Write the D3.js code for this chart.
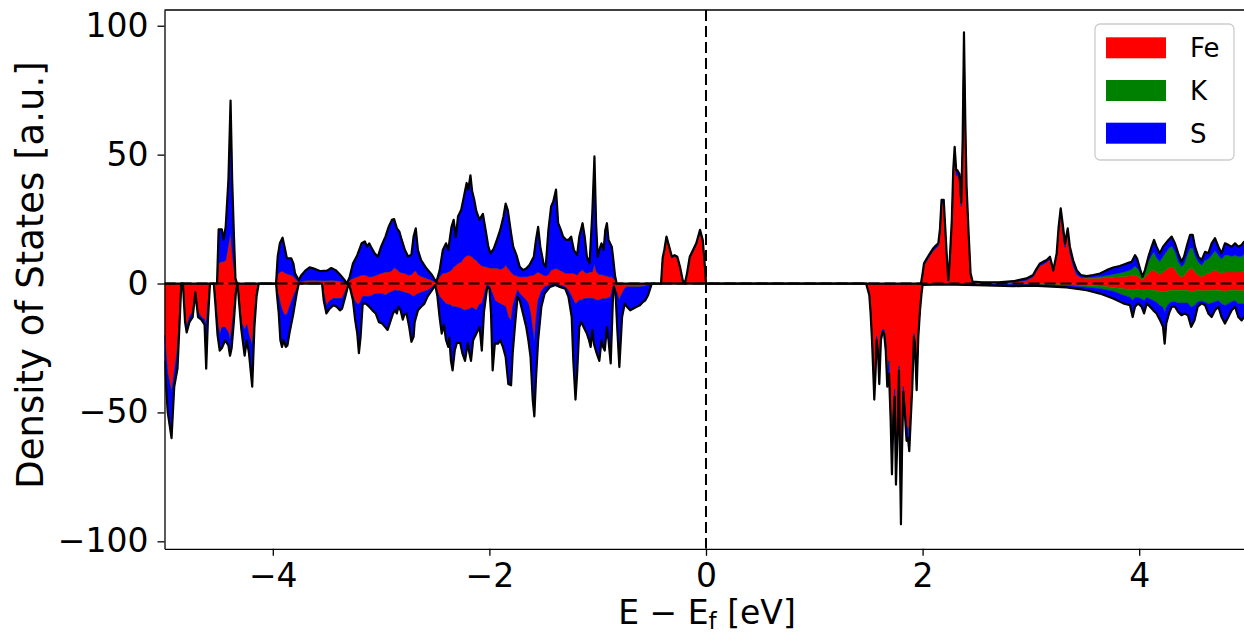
<!DOCTYPE html>
<html>
<head>
<meta charset="utf-8">
<script src="https://cdn.jsdelivr.net/npm/d3@7"></script>
<style>
  body { margin: 0; background: #ffffff; }
  svg { display: block; }
  text { font-family: "DejaVu Sans", sans-serif; fill: #000; }
</style>
</head>
<body>
<svg id="chart" width="1244" height="636"></svg>
<script>
// ---- Projected density of states, spin up (positive) and spin down (negative) ----
const species = ["Fe", "K", "S"];
const speciesColors = ["#ff0000", "#008000", "#0000ff"];
const xTicks = [-4, -2, 0, 2, 4];
const yTicks = [-100, -50, 0, 50, 100];

// spin-up channel
const energyUp = [
  -5.0, -4.515, -4.5, -4.47, -4.455, -4.435, -4.41, -4.39, -4.375, -4.36, -4.345, -4.33,
  -3.97, -3.955, -3.935, -3.91, -3.89, -3.87, -3.83, -3.81, -3.795, -3.76, -3.74,
  -3.7, -3.66, -3.62, -3.56, -3.5, -3.46, -3.42, -3.38, -3.34, -3.315,
  -3.29, -3.26, -3.22, -3.18, -3.15, -3.13, -3.11, -3.09, -3.06, -3.03,
  -3.0, -2.96, -2.93, -2.9, -2.88, -2.855, -2.83, -2.81, -2.78, -2.75,
  -2.72, -2.7, -2.68, -2.66, -2.63, -2.58, -2.53, -2.49,
  -2.46, -2.43, -2.4, -2.38, -2.35, -2.33, -2.31, -2.29, -2.26, -2.235,
  -2.21, -2.195, -2.175, -2.16, -2.14, -2.12, -2.09, -2.075, -2.06, -2.03,
  -2.01, -1.99, -1.96, -1.93, -1.9, -1.87, -1.85, -1.83, -1.8, -1.78,
  -1.75, -1.72, -1.69, -1.66, -1.63, -1.59, -1.57, -1.55, -1.53, -1.5,
  -1.48, -1.455, -1.43, -1.41, -1.385, -1.365, -1.34, -1.32, -1.29, -1.27,
  -1.245, -1.22, -1.19, -1.17, -1.14, -1.12, -1.1, -1.075, -1.05, -1.03,
  -1.015, -1.0, -0.985, -0.965, -0.945, -0.93, -0.915, -0.9, -0.87, -0.855,
  -0.84, -0.825,
  -0.415, -0.4, -0.385, -0.365, -0.34, -0.315, -0.29, -0.265, -0.24, -0.215,
  -0.195, -0.175, -0.15, -0.12, -0.09, -0.055, -0.03, -0.01, 0.0,
  1.985, 2.0, 2.013, 2.04, 2.068, 2.099, 2.12, 2.145, 2.16, 2.175,
  2.195, 2.21, 2.222, 2.237, 2.25, 2.27, 2.283, 2.296, 2.31, 2.32,
  2.34, 2.357, 2.37, 2.382, 2.394, 2.406, 2.425, 2.443, 2.462, 2.55,
  2.7, 2.84, 2.96,
  3.02, 3.053, 3.084, 3.115, 3.146, 3.176, 3.207, 3.238, 3.256, 3.275,
  3.293, 3.315, 3.34, 3.36, 3.39, 3.423, 3.46, 3.515, 3.576, 3.638,
  3.7, 3.76, 3.82, 3.884, 3.93, 3.961, 3.98, 4.007, 4.03, 4.053,
  4.085, 4.115, 4.137, 4.16, 4.19, 4.22, 4.27, 4.3, 4.33, 4.36,
  4.39, 4.414, 4.438, 4.47, 4.494, 4.515, 4.546, 4.577, 4.608, 4.638,
  4.669, 4.7, 4.731, 4.76, 4.792, 4.823, 4.854, 4.885, 4.915, 4.946,
  4.968, 5.0
];
const feUp = [
  0, 0, 8, 8.5, 8.5, 9, 15, 20, 12, 6.5, 1, 0,
  0, 3.5, 4.5, 4.8, 4.2, 3.8, 3.3, 2.8, 2, 0.5, 0.8,
  1.2, 1.3, 1.3, 1.2, 1.2, 1.3, 1.2, 1, 0.5, 0,
  1.3, 2, 2.6, 3.3, 3.3, 3, 2.6, 2.6, 3, 3.5,
  4, 4.5, 4.5, 5, 6.2, 5.5, 4.5, 4.2, 4, 3.3,
  3.5, 4.5, 5, 3.5, 2.8, 2, 1.3, 0.3,
  2.6, 4, 4.2, 4.5, 5.2, 6.5, 7, 7.8, 8.4, 10,
  10.8, 11, 10.8, 10.4, 9.5, 9, 7.5, 7, 6.8, 6.5,
  6.2, 6, 6, 6, 5.5, 6, 7.2, 6, 4.5, 3.5,
  3, 2.6, 2.6, 2.6, 3, 3.3, 4, 4.5, 4, 3.3,
  3, 3.5, 5.2, 5.5, 5.9, 5.5, 5, 4.5, 4, 4,
  4, 4, 3.3, 4.5, 5.2, 4.5, 4, 4.5, 4.5, 7.8,
  5, 4, 3.5, 3.5, 3.3, 3, 3, 2.6, 2.6, 2,
  1.3, 0,
  0, 9.5, 12.5, 17.7, 14, 10, 10.6, 10, 6, 1.2,
  0, 3.5, 9.8, 12.3, 15, 20, 16, 6, 0,
  0, 3.5, 7, 9, 10.8, 12.8, 13.5, 14.5, 20, 31,
  31, 20, 11, 1, 8, 23.5, 42, 51, 42, 42,
  40.5, 30, 54, 95, 61, 36, 18.5, 3.5, 0.5, 0.3,
  0.3, 0.6, 1.3,
  2.6, 5, 7, 7.5, 8.3, 9.5, 4.5, 11, 20.5, 28,
  20, 14, 19.5, 12, 7, 3.5, 2.2, 2, 2, 2,
  2.3, 2.4, 2.6, 2.8, 3, 3.3, 3, 2, 1.3, 2.5,
  4, 5, 5.2, 4.5, 3.5, 4.5, 6, 6.5, 5.5, 3.5,
  2.6, 3, 4.5, 5.8, 5.8, 4.5, 3.3, 2.6, 3.5, 4,
  4.5, 5.2, 4.5, 4, 4.5, 4.5, 4.5, 4.5, 4.5, 4.5,
  4.8, 4.8
];
const kUp = [
  0, 0, 0, 0, 0, 0, 0, 0, 0, 0, 0, 0,
  0, 0, 0, 0, 0, 0, 0, 0, 0, 0, 0,
  0, 0, 0, 0, 0, 0, 0, 0, 0, 0,
  0, 0, 0, 0, 0, 0, 0, 0, 0, 0,
  0, 0, 0, 0, 0, 0, 0, 0, 0, 0,
  0, 0, 0, 0, 0, 0, 0, 0,
  0, 0, 0, 0, 0, 0, 0, 0, 0, 0,
  0, 0, 0, 0, 0, 0, 0, 0, 0, 0,
  0, 0, 0, 0, 0, 0, 0, 0, 0, 0,
  0, 0, 0, 0, 0, 0, 0, 0, 0, 0,
  0, 0, 0, 0, 0, 0, 0, 0, 0, 0,
  0, 0, 0, 0, 0, 0, 0, 0, 0, 0,
  0, 0, 0, 0, 0, 0, 0, 0, 0, 0,
  0, 0,
  0, 0, 0, 0, 0, 0, 0, 0, 0, 0,
  0, 0, 0, 0, 0, 0, 0, 0, 0,
  0, 0, 0, 0, 0, 0, 0, 0, 0, 0,
  0, 0, 0, 0, 0, 0, 0, 0, 0, 0,
  0, 0, 0, 0, 0, 0, 0, 0, 0, 0,
  0, 0, 0,
  0, 0, 0, 0, 0, 0, 0, 0, 0, 0,
  0, 0, 0, 0, 0, 0, 0.2, 0.3, 0.5, 0.7,
  0.8, 1.2, 1.5, 2, 2.5, 3.5, 3, 2.5, 1, 2.5,
  4.5, 6, 7, 5.5, 5, 6, 7.5, 8, 7, 5,
  4, 4.5, 6, 8, 8, 6.5, 5, 4.5, 5.5, 5.5,
  6.5, 7.5, 6.5, 5.5, 6.5, 6.5, 6, 6.5, 6, 6,
  6.5, 6.5
];
const sUp = [
  0, 0, 13, 12.5, 8.5, 13, 25, 51, 28, 13.5, 1, 0,
  0, 6.9, 11.1, 13, 9.8, 6, 6.5, 5, 2, 0.8, 2.2,
  3.8, 5, 4.5, 3.6, 3.8, 4.7, 4, 2.5, 1, 0,
  1.3, 5.8, 8.4, 12.3, 13, 11.3, 13, 11.4, 8.7, 6.9,
  10.3, 13.7, 17.5, 19.7, 18.8, 16, 15.5, 12.8, 9, 7.2,
  7.7, 13.7, 16.4, 9.5, 6.2, 3.8, 2, 0.2,
  2.4, 9, 11.4, 8.5, 16.8, 18.2, 11, 18.2, 20.2, 23.8,
  28.2, 25.4, 31.2, 25.6, 23, 19, 17.2, 19, 20.2, 13,
  8.1, 5.7, 7.5, 11, 15.3, 20, 23.8, 22.5, 15, 10.8,
  8, 3.9, 2.6, 3.2, 4.2, 7.1, 12.9, 17.5, 10.3, 4.5,
  3.5, 17.3, 24.7, 26.3, 30.5, 17.9, 15.8, 13.7, 12.9, 12.9,
  14.2, 9, 7.7, 13.7, 18.2, 13.7, 6.4, 3.3, 22.5, 41.5,
  18.4, 6.4, 9.5, 12.1, 9.7, 17.8, 20.4, 14.3, 11.7, 7,
  1.7, 0,
  0, 0.5, 0.5, 0.5, 0.3, 0.4, 0.4, 0.4, 0.5, 0.1,
  0, 0.5, 0.6, 0.7, 0.6, 0.8, 0.9, 0.5, 0,
  0, 0.4, 0.8, 0.8, 0.9, 0.9, 1.1, 1.1, 1, 1.5,
  1.5, 1, 0.7, 0.3, 0.5, 1.2, 2, 2, 2, 2,
  2, 1.5, 2, 2.4, 2.6, 1.7, 1, 0.5, 0.2, 0.2,
  0.2, 0.3, 0.7,
  0.7, 0.8, 0.8, 1, 0.8, 0.9, 0.7, 0.7, 1.5, 1.2,
  3.3, 1.6, 1.9, 2.3, 2, 1.7, 0.9, 0.6, 0.8, 1.2,
  2.1, 2.6, 2.7, 3, 2.9, 4.2, 3.8, 1.3, 0.3, 0.2,
  1.9, 3.3, 4.7, 4.3, 3.2, 3.8, 3.4, 3.7, 3.1, 3.2,
  1.9, 2.9, 3.8, 5.1, 5.1, 3.3, 2.1, 2, 3.3, 2.2,
  4.6, 4.9, 3.3, 2.2, 4.6, 4, 3.8, 4.6, 3.8, 4.5,
  4.9, 5.2
];

// spin-down channel (drawn below zero)
const energyDown = [
  -5.0, -4.97, -4.935, -4.91, -4.88, -4.855, -4.845, -4.83, -4.81, -4.795,
  -4.77, -4.74, -4.715, -4.69, -4.66, -4.63, -4.615, -4.6, -4.58, -4.545,
  -4.53, -4.51, -4.49, -4.47, -4.44, -4.41, -4.395, -4.38, -4.36, -4.34,
  -4.325, -4.31, -4.29, -4.26, -4.24, -4.22, -4.19, -4.17, -4.15, -4.13,
  -3.97, -3.96, -3.945, -3.93, -3.915, -3.9, -3.88, -3.865, -3.845, -3.81, -3.78,
  -3.76, -3.545, -3.53, -3.505, -3.48, -3.44, -3.41, -3.38, -3.36, -3.33, -3.3,
  -3.285, -3.26, -3.24, -3.22, -3.205, -3.19, -3.17, -3.14, -3.11, -3.08,
  -3.05, -3.02, -2.99, -2.96, -2.94, -2.92, -2.89, -2.87, -2.855, -2.84,
  -2.82, -2.8, -2.785, -2.765, -2.74, -2.72, -2.7, -2.69, -2.66, -2.63,
  -2.6, -2.57, -2.53, -2.5,
  -2.48, -2.46, -2.44, -2.42, -2.4, -2.38, -2.37, -2.355, -2.34, -2.32,
  -2.3, -2.27, -2.25, -2.225, -2.2, -2.185, -2.17, -2.15, -2.12, -2.09,
  -2.07, -2.05, -2.04, -2.02, -2.0, -1.985, -1.97, -1.95, -1.92, -1.9,
  -1.875, -1.85, -1.825, -1.8, -1.785, -1.765, -1.74, -1.72, -1.69, -1.66,
  -1.64, -1.62, -1.6, -1.585, -1.57, -1.55, -1.52, -1.49, -1.44, -1.39,
  -1.35, -1.3, -1.27, -1.24, -1.225, -1.205, -1.19, -1.17, -1.15, -1.13,
  -1.1, -1.08, -1.065, -1.05, -1.035, -1.01, -0.985, -0.965, -0.95, -0.935,
  -0.915, -0.9, -0.88, -0.86, -0.85, -0.835, -0.82, -0.8, -0.79, -0.775,
  -0.75, -0.73, -0.7, -0.67, -0.64, -0.61, -0.58, -0.56, -0.535, -0.51,
  -0.5,
  1.478, 1.508, 1.52, 1.533, 1.545, 1.554, 1.565, 1.576, 1.59, 1.6,
  1.615, 1.631, 1.645, 1.66, 1.674, 1.69, 1.705, 1.717, 1.73, 1.742,
  1.754, 1.77, 1.782, 1.79, 1.8, 1.81, 1.822, 1.837, 1.852, 1.865,
  1.877, 1.89, 1.905, 1.92, 1.93, 1.945, 1.96, 1.976, 1.99, 2.0,
  2.2, 2.5,
  2.84, 3.02, 3.33, 3.515, 3.638, 3.76, 3.853, 3.915, 3.94, 3.961,
  3.99, 4.022, 4.045, 4.07, 4.1, 4.13, 4.16, 4.19, 4.22, 4.235,
  4.25, 4.275, 4.3, 4.33, 4.36, 4.39, 4.42, 4.45, 4.48, 4.51,
  4.54, 4.577, 4.608, 4.638, 4.669, 4.7, 4.731, 4.76, 4.792, 4.823,
  4.854, 4.885, 4.915, 4.946, 4.968, 5.0
];
const feDown = [
  -20, -35, -42, -35, -25, -8, 0, 0, -13, -17,
  -13, -11, -3, -11, -13, -14, -16, -8, 0, 0,
  -5, -15, -20, -17, -17, -19, -22, -18, -10, -2,
  0, -6, -15, -18, -16, -20, -24, -12, -3, 0,
  0, -2.5, -5, -7.8, -10, -11.6, -12.3, -11.5, -9, -5, -2,
  0, 0, -3.5, -8.4, -7, -5.8, -5.8, -5.8, -5.8, -3, 0,
  -1.3, -5, -7, -7.8, -8, -7, -5, -5, -5, -4.5,
  -4, -3.9, -4, -4.5, -4, -3.5, -3, -2.6, -2.8, -2.8,
  -3, -3.2, -3.5, -3.7, -4, -4.5, -5, -4.8, -4, -3.5,
  -3, -2.6, -1.5, -0.4,
  -3, -5, -6, -7, -7.8, -8.2, -8.2, -8.4, -9, -9,
  -9.2, -9.5, -10, -10.5, -10, -10, -9.5, -9.5, -10.4, -8,
  -7.8, -5, -3, -0.6, -1, -2.6, -4, -6.5, -7.5, -7.8,
  -8.4, -9, -13, -14.3, -9, -6, -2.6, -3.9, -5.2, -6.5,
  -7.8, -11.6, -18, -23, -14, -6.5, -3, -1.3, -0.6, -0.3,
  -0.6, -1.3, -2.6, -5, -6.5, -7.8, -7.5, -6.5, -6.5, -6,
  -5.8, -5.8, -5.8, -5.8, -6, -6.5, -6.5, -6, -6, -6,
  -5.8, -5.5, -5.2, -1.3, -0.6, -2.6, -3.9, -6.5, -5.2, -3.9,
  -1.9, -1.3, -1.3, -1.3, -1.3, -1.3, -1.2, -1, -0.6, -0.3,
  0,
  0, -4, -10.5, -20.5, -33, -42.5, -33, -20.5, -26, -37,
  -20, -17.8, -18, -22, -35, -30, -50, -70, -50, -41,
  -74, -53, -32, -60, -89, -62, -40, -47, -55, -56,
  -61, -50, -38, -19.5, -22.5, -39, -20, -10, -3.5, -0.3,
  -0.1, -0.2,
  -0.3, -0.4, -0.5, -0.8, -1, -1.5, -2, -2.3, -2.6, -2.4,
  -2.4, -2.5, -2.6, -2.4, -2.5, -2.6, -2.8, -3, -3.2, -3.3,
  -3.2, -2.8, -2.6, -2.6, -2.6, -2.6, -2.6, -2.6, -3.2, -3,
  -2.6, -2.8, -2.8, -2.8, -2.6, -2.6, -2.6, -2.8, -3, -2.8,
  -2.6, -2.6, -2.8, -2.8, -2.8, -2.8
];
const kDown = [
  0, 0, 0, 0, 0, 0, 0, 0, 0, 0,
  0, 0, 0, 0, 0, 0, 0, 0, 0, 0,
  0, 0, 0, 0, 0, 0, 0, 0, 0, 0,
  0, 0, 0, 0, 0, 0, 0, 0, 0, 0,
  0, 0, 0, 0, 0, 0, 0, 0, 0, 0, 0,
  0, 0, 0, 0, 0, 0, 0, 0, 0, 0, 0,
  0, 0, 0, 0, 0, 0, 0, 0, 0, 0,
  0, 0, 0, 0, 0, 0, 0, 0, 0, 0,
  0, 0, 0, 0, 0, 0, 0, 0, 0, 0,
  0, 0, 0, 0,
  0, 0, 0, 0, 0, 0, 0, 0, 0, 0,
  0, 0, 0, 0, 0, 0, 0, 0, 0, 0,
  0, 0, 0, 0, 0, 0, 0, 0, 0, 0,
  0, 0, 0, 0, 0, 0, 0, 0, 0, 0,
  0, 0, 0, 0, 0, 0, 0, 0, 0, 0,
  0, 0, 0, 0, 0, 0, 0, 0, 0, 0,
  0, 0, 0, 0, 0, 0, 0, 0, 0, 0,
  0, 0, 0, 0, 0, 0, 0, 0, 0, 0,
  0, 0, 0, 0, 0, 0, 0, 0, 0, 0,
  0,
  0, 0, 0, 0, 0, 0, 0, 0, 0, 0,
  0, 0, 0, 0, 0, 0, 0, 0, 0, 0,
  0, 0, 0, 0, 0, 0, 0, 0, 0, 0,
  0, 0, 0, 0, 0, 0, 0, 0, 0, 0,
  0, 0,
  -0.1, -0.1, -0.3, -0.6, -1, -1.5, -2.5, -3, -4, -3,
  -3, -3.5, -4, -3, -3.5, -4, -4.5, -5.5, -6, -8,
  -6, -5, -4.5, -4.5, -5, -5, -5, -5, -6, -5.5,
  -4.5, -4, -4.5, -5, -5, -4.5, -4, -5, -5.5, -5,
  -4.5, -4, -5, -5, -5, -5
];
const sDown = [
  -10, -15, -18, -5, -8, -2, 0, 0, -2, -2,
  -2, -2, -0.5, -2, -1, -2, -17, -7, 0, 0,
  -3, -5, -6, -8, -5, -5, -6, -7, -5, -1,
  0, -2, -3, -10, -6, -7, -16, -5, -2, 0,
  0, -2.5, -6.6, -14.2, -14.6, -10.4, -12.3, -12.5, -10, -6.6, -2,
  0, 0, -3, -3.2, -3, -2.6, -3.2, -4.6, -3.9, -2, 0,
  -0.7, -1.5, -7, -11.6, -19, -14, -2.8, -2.8, -4, -5.9,
  -7.6, -11.1, -11.5, -12.5, -14, -12, -8.6, -7.8, -8.8, -6.2,
  -7.4, -10.8, -8.5, -7.9, -13, -18.1, -15.7, -10.2, -6.4, -5.5,
  -4.8, -2.4, -1.1, -0.2,
  -2, -8, -13.4, -9, -14.2, -16.4, -12.8, -21.6, -24.7, -17,
  -13.8, -13.5, -17, -19.5, -13, -17, -20.5, -12.5, -9, -8.9,
  -18.2, -6, -4.8, -0.7, -1, -9, -29.7, -16.8, -15.8, -14.2,
  -16.2, -19.5, -26, -25.2, -18, -10.9, -2.6, -2.6, -6.4, -10.4,
  -14.2, -16.9, -27, -28.5, -23, -15.5, -6, -2.6, -0.7, -0.3,
  -0.7, -0.7, -2.6, -8, -23.5, -37.2, -27.5, -10.4, -8.4, -10.9,
  -13.6, -16.2, -18.8, -12.2, -17.3, -20.5, -23.5, -16, -18.6, -20,
  -11.1, -16.5, -25.8, -5.2, -0.7, -1.3, -13, -25.9, -19.4, -9.1,
  -5.9, -7.7, -9.1, -8.4, -7.7, -7.1, -5.9, -5.5, -3.9, -1,
  0,
  0, -0.5, -1.1, -1.5, -2, -2.5, -2, -1.5, -2, -2,
  -2, -1, -1.4, -4, -5, -5, -3, -4, -3, -3,
  -4, -3, -2, -4, -4.4, -3, -2, -4, -6, -4,
  -4, -3, -2, -1.2, -1.5, -2.4, -1, -0.4, -0.4, -0.2,
  -0.2, -0.4,
  -0.6, -0.3, -0.7, -1.2, -1.9, -2.8, -3.2, -3.1, -6.4, -3.6,
  -2.3, -3, -5, -2.3, -3, -3.8, -4.3, -5.5, -7.6, -12,
  -6.3, -3.8, -1.9, -1.9, -3.4, -4.7, -4, -4.7, -7.6, -5.8,
  -1.9, -0.9, -1.1, -3.8, -5.4, -3.3, -2.4, -5.2, -7, -5.2,
  -3.3, -2.4, -5.2, -6.5, -5.2, -4.7
];

// ---- layout ----
const plot = { left: 164.5, right: 1247.5, top: 10, bottom: 548.8 };
const x = d3.scaleLinear().domain([-5, 5]).range([plot.left, plot.right]);
const y = d3.scaleLinear().domain([-102.9, 106.1]).range([plot.bottom, plot.top]);
const color = d3.scaleOrdinal().domain(species).range(speciesColors);

const svg = d3.select("#chart");

svg.append("defs").append("clipPath").attr("id", "plot-clip")
  .append("rect")
  .attr("x", plot.left).attr("y", plot.top)
  .attr("width", plot.right - plot.left).attr("height", plot.bottom - plot.top);

function toRows(energy, fe, k, s) {
  return energy.map((e, i) => ({ E: e, Fe: fe[i], K: k[i], S: s[i] }));
}
const upRows = toRows(energyUp, feUp, kUp, sUp);
const downRows = toRows(energyDown, feDown, kDown, sDown);

// Fe at the base, then K, then S on top (downwards for the spin-down channel)
const stack = d3.stack().keys(species);
const area = d3.area()
  .x(d => x(d.data.E))
  .y0(d => y(d[0]))
  .y1(d => y(d[1]));
const totalLine = d3.line()
  .x(d => x(d.E))
  .y(d => y(d.Fe + d.K + d.S));

const g = svg.append("g").attr("clip-path", "url(#plot-clip)");

[upRows, downRows].forEach(rows => {
  g.append("g").selectAll("path")
    .data(stack(rows))
    .join("path")
    .attr("d", area)
    .attr("fill", d => color(d.key))
    .attr("stroke", d => color(d.key))
    .attr("stroke-width", 0.5);
});

[upRows, downRows].forEach(rows => {
  g.append("path")
    .datum(rows)
    .attr("d", totalLine)
    .attr("fill", "none")
    .attr("stroke", "#000")
    .attr("stroke-width", 2.2)
    .attr("stroke-linejoin", "round");
});

// Fermi level and zero reference
g.append("line")
  .attr("x1", plot.left).attr("x2", plot.right)
  .attr("y1", y(0)).attr("y2", y(0))
  .attr("stroke", "#000").attr("stroke-width", 2)
  .attr("stroke-dasharray", "11,5");
g.append("line")
  .attr("x1", x(0)).attr("x2", x(0))
  .attr("y1", plot.top).attr("y2", plot.bottom)
  .attr("stroke", "#000").attr("stroke-width", 2)
  .attr("stroke-dasharray", "11,5");

// ---- axes ----
const yAxis = d3.axisLeft(y).tickValues(yTicks).tickSize(7).tickSizeOuter(0).tickPadding(9);
const xAxis = d3.axisBottom(x).tickValues(xTicks).tickSize(7).tickSizeOuter(0).tickPadding(8);

const gy = svg.append("g").attr("transform", `translate(${plot.left},0)`).call(yAxis);
const gx = svg.append("g").attr("transform", `translate(0,${plot.bottom})`).call(xAxis);
[gx, gy].forEach(ax => {
  ax.select(".domain").attr("stroke", "#000").attr("stroke-width", 1.3);
  ax.selectAll(".tick line").attr("stroke", "#000").attr("stroke-width", 1.3);
  ax.selectAll(".tick text")
    .attr("font-family", "DejaVu Sans, sans-serif")
    .attr("font-size", 33)
    .attr("fill", "#000");
});

// top spine
svg.append("line")
  .attr("x1", plot.left).attr("x2", plot.right)
  .attr("y1", plot.top).attr("y2", plot.top)
  .attr("stroke", "#000").attr("stroke-width", 1.3);

// axis labels
const xLabel = svg.append("text")
  .attr("x", 707).attr("y", 624)
  .attr("text-anchor", "middle")
  .attr("font-size", 33);
xLabel.append("tspan").text("E − E");
xLabel.append("tspan").attr("font-size", 23).attr("dy", 5).text("f");
xLabel.append("tspan").attr("dy", -5).text(" [eV]");

svg.append("text")
  .attr("transform", "translate(43,275) rotate(-90)")
  .attr("text-anchor", "middle")
  .attr("font-size", 37)
  .text("Density of States [a.u.]");

// ---- legend ----
const legend = svg.append("g").attr("transform", "translate(1095,24)");
legend.append("rect")
  .attr("width", 139).attr("height", 136)
  .attr("rx", 5).attr("ry", 5)
  .attr("fill", "#fff").attr("fill-opacity", 0.8)
  .attr("stroke", "#cccccc").attr("stroke-width", 1.3);
const entries = legend.selectAll("g.entry")
  .data(species)
  .join("g")
  .attr("class", "entry")
  .attr("transform", (d, i) => `translate(0,${13.3 + i * 42.7})`);
entries.append("rect")
  .attr("x", 11).attr("width", 60).attr("height", 21)
  .attr("fill", d => color(d));
entries.append("text")
  .attr("x", 95).attr("y", 20)
  .attr("font-size", 26)
  .text(d => d);
</script>
</body>
</html>
